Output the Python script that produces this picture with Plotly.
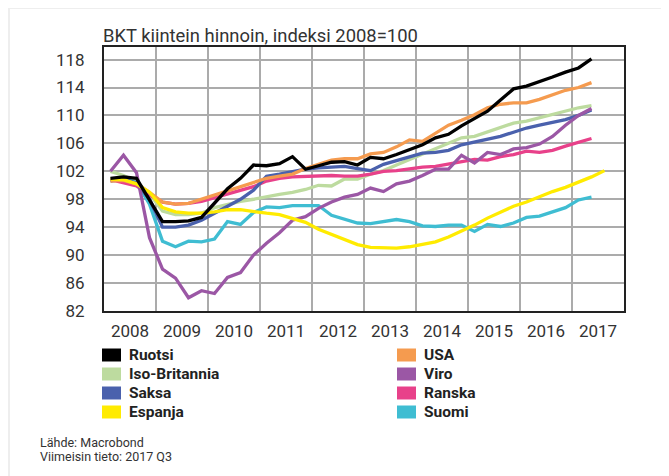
import plotly.graph_objects as go

# ---------------- data ----------------
quarters = [f"{y}Q{q}" for y in range(2008, 2018) for q in range(1, 5)][:39]

ruotsi = [101.0, 101.2, 101.0, 97.8, 94.8, 94.8, 94.9, 95.4, 97.4, 99.5,
          101.0, 102.9, 102.8, 103.1, 104.1, 102.3, 102.8, 103.3, 103.4, 102.9,
          104.0, 103.8, 104.4, 105.1, 105.8, 106.8, 107.3, 108.5, 109.5, 110.6,
          112.2, 113.8, 114.2, 114.8, 115.5, 116.2, 116.8, 118.1]
usa = [100.6, 100.7, 100.2, 99.0, 97.6, 97.3, 97.4, 98.0, 98.6, 99.3,
       99.8, 100.5, 101.0, 101.3, 101.6, 102.4, 103.0, 103.6, 103.8, 103.8,
       104.5, 104.7, 105.5, 106.5, 106.3, 107.4, 108.6, 109.3, 110.1, 111.1,
       111.6, 111.8, 111.8, 112.3, 113.0, 113.6, 114.0, 114.7]
iso_britannia = [102.0, 101.4, 100.5, 98.8, 96.3, 95.8, 95.8, 96.0, 96.8, 97.3,
                 97.7, 98.0, 98.4, 98.7, 99.0, 99.4, 100.0, 99.9, 100.9, 100.9,
                 101.6, 102.1, 102.9, 103.7, 104.5, 105.3, 106.1, 106.8, 107.0, 107.6,
                 108.3, 108.9, 109.2, 109.7, 110.2, 110.7, 111.1, 111.4]
saksa = [100.6, 100.9, 100.3, 98.0, 94.0, 94.0, 94.3, 95.0, 96.0, 97.0,
         98.0, 99.3, 101.3, 101.6, 102.0, 102.3, 102.5, 102.6, 102.7, 102.4,
         102.1, 103.0, 103.5, 104.0, 104.6, 104.7, 105.0, 105.8, 106.2, 106.6,
         107.0, 107.6, 108.2, 108.6, 109.0, 109.4, 110.0, 110.8]
viro = [102.0, 104.3, 101.8, 92.5, 88.0, 86.7, 83.9, 84.9, 84.5, 86.8,
        87.5, 90.0, 91.7, 93.2, 95.0, 95.5, 96.7, 97.6, 98.3, 98.7,
        99.6, 99.1, 100.2, 100.6, 101.4, 102.3, 102.3, 104.3, 103.2, 104.7,
        104.4, 105.2, 105.4, 105.9, 107.0, 108.6, 110.0, 111.0]
ranska = [100.8, 100.4, 99.9, 98.6, 97.6, 97.3, 97.4, 97.7, 98.2, 98.7,
          99.2, 99.8, 100.6, 101.0, 101.2, 101.3, 101.4, 101.4, 101.3, 101.3,
          101.6, 102.0, 102.1, 102.4, 102.6, 102.7, 103.0, 103.4, 103.7, 103.6,
          104.1, 104.4, 104.9, 104.7, 105.0, 105.6, 106.1, 106.7]
espanja = [100.9, 100.8, 100.2, 99.0, 96.8, 96.2, 96.0, 96.0, 96.2, 96.5,
           96.5, 96.2, 96.0, 95.8, 95.3, 94.7, 93.7, 93.0, 92.2, 91.5,
           91.1, 91.1, 91.0, 91.2, 91.6, 91.9, 92.6, 93.4, 94.3, 95.3,
           96.1, 97.0, 97.6, 98.4, 99.1, 99.7, 100.4, 101.2, 102.1]
suomi = [100.9, 100.9, 100.4, 97.3, 92.0, 91.2, 92.0, 91.9, 92.3, 94.8,
         94.4, 96.1, 96.9, 96.8, 97.1, 97.1, 97.1, 95.7, 95.2, 94.6,
         94.5, 94.8, 95.1, 94.8, 94.2, 94.1, 94.3, 94.3, 93.4, 94.4,
         94.1, 94.6, 95.4, 95.6, 96.2, 96.8, 97.9, 98.3]

years = list(range(2008, 2018))
year_labels = [str(y) for y in years]
y_ticks = [82, 86, 90, 94, 98, 102, 106, 110, 114, 118]

title_text = "BKT kiintein hinnoin, indeksi 2008=100"
source_lines = ["Lähde: Macrobond", "Viimeisin tieto: 2017 Q3"]

# name, values, colour ; drawing order (bottom first)
series = [
    ("Iso-Britannia", iso_britannia, "#bddb9f"),
    ("Suomi", suomi, "#3fbdd2"),
    ("Ranska", ranska, "#e8418a"),
    ("Saksa", saksa, "#4a61ad"),
    ("Viro", viro, "#9b57a5"),
    ("USA", usa, "#f59b4f"),
    ("Espanja", espanja, "#ffeb00"),
    ("Ruotsi", ruotsi, "#000000"),
]
colors = {n: c for n, _, c in series}
legend_left = ["Ruotsi", "Iso-Britannia", "Saksa", "Espanja"]
legend_right = ["USA", "Viro", "Ranska", "Suomi"]


def qpos(label):
    return int(label[:4]) + (int(label[-1]) - 0.5) / 4


# ---------------- layout geometry (pixels of the target picture) ----------------
OFF = 8                      # the page body has an 8px default margin
W, H = 669 - OFF, 476 - OFF  # figure size
L, R, T, B = 104, 624, 47, 311   # plot area in target-picture pixels
PW, PH = R - L, B - T


def px(x):
    return (x - L) / PW


def py(y):
    return (B - y) / PH


fig = go.Figure()
for name, vals, col in series:
    fig.add_trace(go.Scatter(
        x=[qpos(q) for q in quarters[:len(vals)]], y=vals, mode="lines",
        name=name, line=dict(color=col, width=3.3), showlegend=False,
        hoverinfo="skip"))

font_family = "Roboto, 'DejaVu Sans', sans-serif"

shapes = [
    # white card on gray page
    dict(type="rect", xref="paper", yref="paper", x0=px(10), x1=px(680),
         y0=py(490), y1=py(9), fillcolor="white", line=dict(width=0),
         layer="below"),
]
annotations = [
    dict(text=title_text, xref="paper", yref="paper", x=px(101), y=py(35),
         xanchor="left", yanchor="middle", showarrow=False,
         font=dict(size=18.4, color="#333333", family=font_family)),
]

row_y = [355, 374, 393, 412]
for col_x, names in ((102, legend_left), (397, legend_right)):
    for ry, name in zip(row_y, names):
        shapes.append(dict(type="rect", xref="paper", yref="paper",
                           x0=px(col_x), x1=px(col_x + 19),
                           y0=py(ry + 6.5), y1=py(ry - 6.5),
                           fillcolor=colors[name], line=dict(width=0)))
        annotations.append(dict(text=f"<b>{name}</b>", xref="paper", yref="paper",
                                x=px(col_x + 25), y=py(ry), xanchor="left",
                                yanchor="middle", showarrow=False,
                                font=dict(size=15.5, color="#222222", family=font_family)))

for i, line in enumerate(source_lines):
    annotations.append(dict(text=line, xref="paper", yref="paper",
                            x=px(38), y=py(442 + 14 * i), xanchor="left",
                            yanchor="middle", showarrow=False,
                            font=dict(size=12.5, color="#333333", family=font_family)))

fig.update_layout(
    width=W, height=H,
    margin=dict(l=L - OFF, r=669 - R, t=T - OFF, b=476 - B, pad=0),
    paper_bgcolor="#eeeeee", plot_bgcolor="white",
    font=dict(family=font_family, color="#333333"),
    shapes=shapes, annotations=annotations,
    xaxis=dict(range=[2008, 2018], tickvals=[y + 0.5 for y in years],
               ticktext=year_labels, showgrid=False, ticks="outside",
               ticklen=4, tickcolor="rgba(0,0,0,0)",
               tickfont=dict(size=17, color="#333333"),
               showline=True, linecolor="#222222", linewidth=2, mirror=True,
               zeroline=False,
               minor=dict(tickvals=years[1:], showgrid=True,
                          gridcolor="#ababab", gridwidth=1.5, ticks="")),
    yaxis=dict(range=[82, 119.8], tickvals=y_ticks, showgrid=True,
               gridcolor="#ababab", gridwidth=1.5, ticks="outside",
               ticklen=14, tickcolor="rgba(0,0,0,0)",
               tickfont=dict(size=17, color="#333333"),
               showline=True, linecolor="#222222", linewidth=2, mirror=True,
               zeroline=False),
)

fig.write_html("out.html")
